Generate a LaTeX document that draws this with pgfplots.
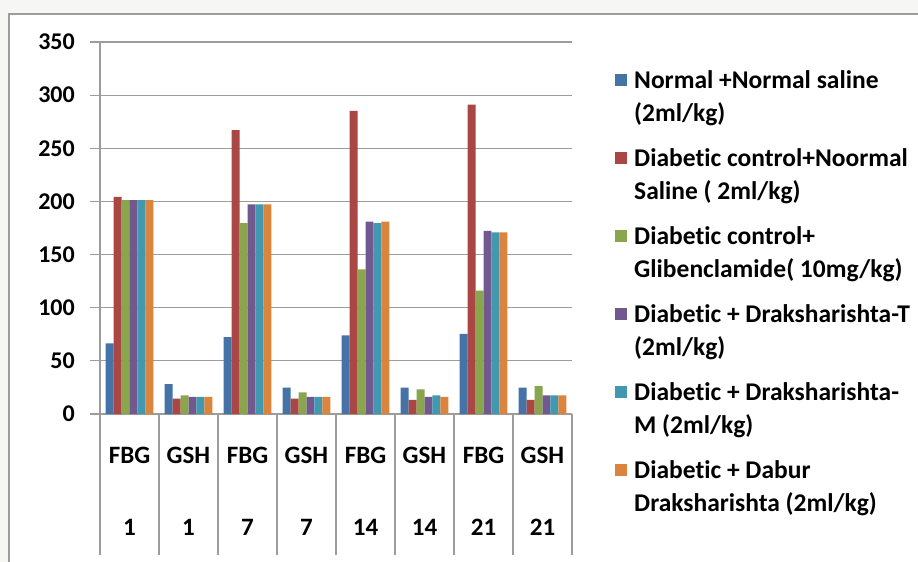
\documentclass[border=0pt]{standalone}
\usepackage{pgfplots}
\pgfplotsset{compat=1.18}
\usepackage{fontspec}
\setmainfont{Carlito}[Ligatures=NoCommon]
\definecolor{sA}{HTML}{4572A7}
\definecolor{sB}{HTML}{AA4643}
\definecolor{sC}{HTML}{89A54E}
\definecolor{sD}{HTML}{71588F}
\definecolor{sE}{HTML}{4198AF}
\definecolor{sF}{HTML}{DB843D}
\definecolor{gridc}{HTML}{9C9C9C}
\definecolor{bgc}{HTML}{F6F6F4}
\newcommand\s{\strut}
\begin{document}
\begin{tikzpicture}
\useasboundingbox (0pt,0pt) rectangle (918pt,562pt);
\fill[bgc] (0pt,0pt) rectangle (918pt,562pt);
\fill[white] (9pt,-10pt) rectangle (930pt,548pt);
\draw[gridc, line width=2pt] (9pt,-10pt) -- (9pt,548pt) -- (930pt,548pt);
\begin{axis}[
  at={(100pt,148pt)}, anchor=south west,
  scale only axis, width=472pt, height=372pt,
  xmin=-0.5, xmax=7.5, ymin=0, ymax=350,
  ybar=0pt, bar width=0.1344,
  axis x line=bottom, axis y line=left,
  axis line style={-, draw=gridc, line width=1.2pt},
  ymajorgrids, grid style={gridc, line width=1.2pt},
  ytick={0,50,...,350},
  xtick={0,...,7},
  xticklabels={{FBG\\[40pt]1},{GSH\\[40pt]1},{FBG\\[40pt]7},{GSH\\[40pt]7},{FBG\\[40pt]14},{GSH\\[40pt]14},{FBG\\[40pt]21},{GSH\\[40pt]21}},
  tick align=outside, major tick length=10pt,
  ytick style={draw=gridc, line width=1.2pt},
  xtick style={draw=none},
  extra x ticks={-0.5,0.5,...,7.5},
  extra x tick labels={},
  extra x tick style={major tick length=141pt, xtick style={draw=gridc, line width=1.2pt}},
  /pgf/number format/assume math mode=true,
  yticklabel style={font=\fontsize{24}{29}\selectfont\bfseries, anchor=east, inner sep=0pt, xshift=-15pt},
  xticklabel style={font=\fontsize{25}{32}\selectfont\bfseries, align=center, anchor=north, inner sep=0pt, yshift=-23pt},
  legend style={at={(1.0911,0.9382)}, anchor=north west, draw=none, fill=none, inner sep=0pt,
    font=\fontsize{25.5}{33}\selectfont\bfseries, cells={anchor=west}, nodes={inner sep=0pt, align=left},
    row sep=20.5pt, /tikz/every odd column/.append style={column sep=7pt}},
  legend image code/.code={\fill[#1,draw=none] (0pt,8pt) rectangle (12pt,20pt);},
]
\addplot[fill=sA, draw=none] coordinates {(0,66.5) (1,28) (2,72.4) (3,24.8) (4,74) (5,24.8) (6,75.5) (7,24.8)};
\addplot[fill=sB, draw=none] coordinates {(0,204.4) (1,14.4) (2,267) (3,14.4) (4,285.3) (5,13.2) (6,291) (7,13.2)};
\addplot[fill=sC, draw=none] coordinates {(0,201.3) (1,17.6) (2,179.7) (3,20.4) (4,136) (5,23.2) (6,116) (7,26.3)};
\addplot[fill=sD, draw=none] coordinates {(0,201.3) (1,16) (2,197.3) (3,16) (4,181) (5,16) (6,172.4) (7,17.6)};
\addplot[fill=sE, draw=none] coordinates {(0,201.3) (1,16) (2,197.3) (3,16) (4,179.7) (5,17.6) (6,170.9) (7,17.6)};
\addplot[fill=sF, draw=none] coordinates {(0,201.3) (1,16) (2,197.3) (3,16) (4,181) (5,16) (6,170.9) (7,17.6)};
\legend{{\s Normal +Normal saline\\\s(2ml/kg)},
        {\s Diabetic control+Noormal\\\s Saline ( 2ml/kg)},
        {\s Diabetic control+\\\s Glibenclamide( 10mg/kg)},
        {\s Diabetic + Draksharishta-T\\\s(2ml/kg)},
        {\s Diabetic + Draksharishta-\\\s M (2ml/kg)},
        {\s Diabetic + Dabur\\\s Draksharishta (2ml/kg)}}
\end{axis}
\end{tikzpicture}
\end{document}
